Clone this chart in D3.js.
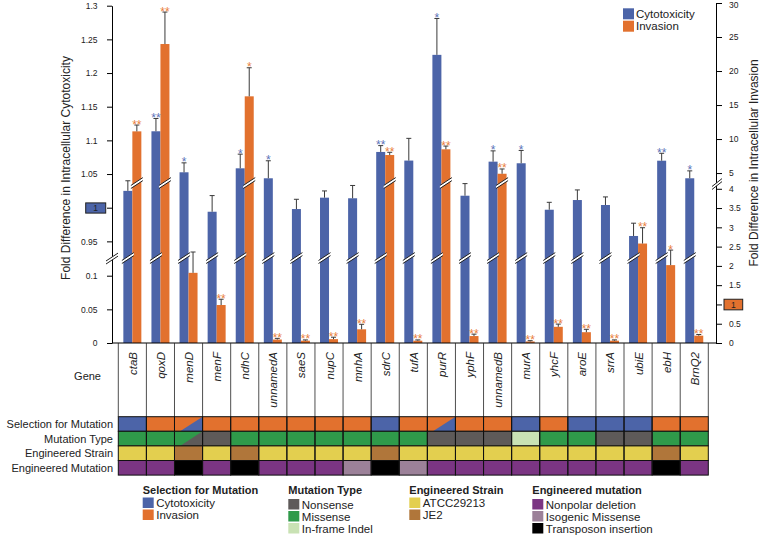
<!DOCTYPE html>
<html><head><meta charset="utf-8">
<script src="https://cdn.jsdelivr.net/npm/d3@7"></script>
<style>body{margin:0;background:#fff}svg{display:block;font-family:Arial,"Liberation Sans",Helvetica,sans-serif}</style>
</head><body><svg id="c" width="760" height="535"></svg>
<script>
// ---------------- data ----------------
const genes = ["ctaB","qoxD","menD","menF","ndhC","unnamedA","saeS","nupC","mnhA","sdrC","tufA","purR","yphF","unnamedB","murA","yhcF","aroE","srrA","ubiE","ebH","BrnQ2"];
const cytotoxicity    = [1.025,1.1135,1.0526,0.994,1.0585,1.0437,0.998,1.0149,1.014,1.0828,1.070,1.227,1.0178,1.0684,1.066,0.997,1.0114,1.004,0.958,1.0698,1.0437];
const cytotoxicityErr = [0.015,0.019,0.014,0.024,0.021,0.026,0.0145,0.010,0.019,0.0094,0.033,0.054,0.018,0.016,0.019,0.011,0.015,0.012,0.019,0.011,0.011];
const cytotoxicitySig = ["","**","*","","*","*","","","","**","","*","","*","*","","","","","**","*"];
const invasion    = [11.13,23.97,1.82,0.985,16.28,0.09,0.06,0.10,0.355,7.65,0.06,8.49,0.18,4.9,0.04,0.42,0.28,0.06,2.58,2.02,0.19];
const invasionErr = [0.93,4.7,0.54,0.15,4.2,0.03,0.02,0.05,0.13,0.4,0.02,0.48,0.05,0.7,0.02,0.07,0.075,0.02,0.41,0.39,0.03];
const invasionSig = ["**","**","","**","*","**","**","**","**","**","**","**","**","**","**","**","**","**","**","*","**"];
const leftTicks  = [0,0.05,0.1,0.95,1,1.05,1.1,1.15,1.2,1.25,1.3];
const rightTicks = [0,0.5,1,1.5,2,2.5,3,3.5,4,5,10,15,20,25,30];
// table rows (C=Cytotoxicity, I=Invasion; M=Missense, N=Nonsense, D=In-frame Indel;
// A=ATCC29213, J=JE2; P=Nonpolar deletion, S=Isogenic Missense, T=Transposon insertion)
const selection    = ["C","I","I/C","I","I","I","I","I","I","C","I","I/C","I","I","C","I","C","C","C","I","I"];
const mutationType = ["M","M","M/N","N","M","M","M","M","M","M","M","N","N","N","D","M","M","N","N","M","M"];
const strain       = ["A","A","J","A","J","A","A","A","A","J","A","A","A","A","A","A","A","A","A","J","A"];
const engineered   = ["P","P","T","P","T","P","P","P","S","T","S","P","P","P","P","P","P","P","P","T","P"];
const rowLabels = ["Selection for Mutation","Mutation Type","Engineered Strain","Engineered Mutation"];

// ---------------- styles ----------------
const BLUE="#4c64a8", ORANGE="#e2712e", BLUE_STAR="#5b72b8", ORANGE_STAR="#ea7f3d";
const colors = {C:BLUE,I:ORANGE,M:"#2f9a4a",N:"#5e5a59",D:"#c9e2b4",A:"#e3cf4f",J:"#b0763a",P:"#7b3583",S:"#9c8199",T:"#000000"};

const svg = d3.select("#c");
const plotTop=5.7, plotBottom=343, breakL=258, axisLX=112, axisRX=716;

const x = d3.scaleBand().domain(genes).range([118.3,708.3]);
const yL = d3.scaleLinear().domain([0,0.1263,0.9253,1.3]).range([plotBottom,breakL,breakL,plotTop]);
const yR = d3.scaleLinear().domain([0,4.15,4.2,30]).range([plotBottom,183,178.5,3]);
const bw = 9;

const data = genes.map((g,i)=>({g,i,c:cytotoxicity[i],ce:cytotoxicityErr[i],cs:cytotoxicitySig[i],
  v:invasion[i],ve:invasionErr[i],vs:invasionSig[i]}));

function slash(g, cx, cy, half){
  const dy=3.2;
  g.append("polygon").attr("points",
    `${cx-half},${cy+dy+1.3} ${cx+half},${cy-dy-0.2} ${cx+half},${cy-dy+2.6} ${cx-half},${cy+dy+4.1}`)
    .attr("transform","translate(0,-2)").attr("fill","#fff");
  g.append("line").attr("x1",cx-half).attr("y1",cy+dy-0.7).attr("x2",cx+half).attr("y2",cy-dy-2.2).attr("stroke","#222").attr("stroke-width",1);
  g.append("line").attr("x1",cx-half).attr("y1",cy+dy+2.3).attr("x2",cx+half).attr("y2",cy-dy+0.8).attr("stroke","#222").attr("stroke-width",1);
}

// bars
const gb = svg.append("g");
const bx = d=>x(d.g)+(x.bandwidth()-2*bw)/2;
gb.selectAll(".bb").data(data).join("rect").attr("x",d=>bx(d)).attr("width",bw)
  .attr("y",d=>yL(d.c)).attr("height",d=>plotBottom-yL(d.c)).attr("fill",BLUE);
gb.selectAll(".ob").data(data).join("rect").attr("x",d=>bx(d)+bw).attr("width",bw)
  .attr("y",d=>yR(d.v)).attr("height",d=>plotBottom-yR(d.v)).attr("fill",ORANGE);

// error bars
const ge = svg.append("g").attr("stroke","#3a3a3a").attr("stroke-width",1);
data.forEach(d=>{
  const cxb=bx(d)+bw/2, cxo=bx(d)+bw*1.5;
  const t1=yL(d.c+d.ce), t2=yR(d.v+d.ve);
  ge.append("line").attr("x1",cxb).attr("x2",cxb).attr("y1",yL(d.c)).attr("y2",t1);
  ge.append("line").attr("x1",cxb-2.5).attr("x2",cxb+2.5).attr("y1",t1).attr("y2",t1);
  ge.append("line").attr("x1",cxo).attr("x2",cxo).attr("y1",yR(d.v)).attr("y2",t2);
  ge.append("line").attr("x1",cxo-2.5).attr("x2",cxo+2.5).attr("y1",t2).attr("y2",t2);
});

// stars
const gs = svg.append("g").attr("font-size",12).attr("text-anchor","middle");
gs.selectAll(".cs").data(data).join("text").attr("x",d=>bx(d)+bw/2).attr("y",d=>yL(d.c+d.ce)+3.5)
  .attr("fill",BLUE_STAR).text(d=>d.cs);
gs.selectAll(".vs").data(data).join("text").attr("x",d=>bx(d)+bw*1.5).attr("y",d=>yR(d.v+d.ve)+3.5)
  .attr("fill",ORANGE_STAR).text(d=>d.vs);

// bar breaks
const gk = svg.append("g");
data.forEach(d=>{
  if(d.c>0.9253) slash(gk, bx(d)+bw/2, breakL, 6);
  if(d.v>4.15) slash(gk, bx(d)+bw*1.5, 183, 6);
});

// axes
const axL = svg.append("g").attr("transform",`translate(${axisLX},0)`)
  .call(d3.axisLeft(yL).tickValues(leftTicks).tickSize(5).tickSizeOuter(0).tickFormat(d=>d===1?"":d));
const axR = svg.append("g").attr("transform",`translate(${axisRX},0)`)
  .call(d3.axisRight(yR).tickValues(rightTicks).tickSize(6).tickSizeOuter(0).tickFormat(d=>d===1?"":d));
[axL,axR].forEach(a=>{
  a.selectAll("text").attr("font-size",8.5).attr("font-family","Arial, 'Liberation Sans', sans-serif").attr("fill","#222");
  a.selectAll("line,path").attr("stroke","#000");
});
axL.selectAll("text").attr("x",-14.5);
axR.selectAll("text").attr("x",13);
axR.selectAll(".tick").filter(d=>d===30).select("text").attr("dy","0.55em");
slash(svg.append("g"), axisLX, breakL+0.5, 6);
slash(svg.append("g"), axisRX+1, 184, 5);

// "1" boxes
svg.append("rect").attr("x",85.7).attr("y",yL(1)-4.8).attr("width",20).attr("height",10.2)
  .attr("fill",BLUE).attr("stroke","#222").attr("stroke-width",1);
svg.append("text").attr("x",95.7).attr("y",yL(1)+3.2).attr("text-anchor","middle").attr("font-size",8.5).attr("fill","#222").text("1");
svg.append("rect").attr("x",724).attr("y",yR(1)-5.2).attr("width",18.7).attr("height",10.6)
  .attr("fill",ORANGE).attr("stroke","#222").attr("stroke-width",1);
svg.append("text").attr("x",733.3).attr("y",yR(1)+3.2).attr("text-anchor","middle").attr("font-size",8.5).attr("fill","#222").text("1");

// axis titles
svg.append("text").attr("transform","translate(70,168) rotate(-90)").attr("text-anchor","middle")
  .attr("font-size",12).attr("fill","#222").text("Fold Difference in Intracellular Cytotoxicity");
svg.append("text").attr("transform","translate(758,163) rotate(-90)").attr("text-anchor","middle")
  .attr("font-size",12).attr("fill","#222").text("Fold Difference in Intracellular Invasion");

// top legend
const lg = svg.append("g");
[["Cytotoxicity",BLUE],["Invasion",ORANGE]].forEach((d,i)=>{
  lg.append("rect").attr("x",623).attr("y",8.3+i*12.4).attr("width",11).attr("height",11).attr("fill",d[1]);
  lg.append("text").attr("x",636).attr("y",18+i*12.4).attr("font-size",11.5).attr("fill","#222").text(d[0]);
});

// x axis line and gene table
svg.append("line").attr("x1",axisLX).attr("x2",axisRX).attr("y1",plotBottom).attr("y2",plotBottom).attr("stroke","#000");
const tableTop=416.7, rowH=14.6;
const bounds = genes.map(g=>x(g)).concat([x.range()[1]]);
svg.append("g").selectAll("line").data(bounds).join("line")
  .attr("x1",d=>d).attr("x2",d=>d).attr("y1",plotBottom).attr("y2",tableTop).attr("stroke","#222").attr("stroke-width",0.8);
svg.append("g").selectAll("text").data(genes).join("text")
  .attr("transform",g=>`translate(${x(g)+x.bandwidth()/2+4.5},352) rotate(-90)`)
  .attr("text-anchor","end").attr("font-size",11.5).attr("font-style","italic").attr("fill","#222").text(g=>g);
svg.append("text").attr("x",101).attr("y",380).attr("text-anchor","end").attr("font-size",11).attr("fill","#222").text("Gene");

const rows=[selection,mutationType,strain,engineered];
rows.forEach((row,r)=>{
  const y0=tableTop+r*rowH;
  const g=svg.append("g");
  row.forEach((code,i)=>{
    const x0=x(genes[i]), w=x.bandwidth();
    if(code.includes("/")){
      const [a,b]=code.split("/");
      g.append("rect").attr("x",x0).attr("y",y0).attr("width",w).attr("height",rowH).attr("fill",colors[a]);
      g.append("polygon").attr("points",`${x0+w*0.2},${y0+rowH} ${x0+w},${y0} ${x0+w},${y0+rowH}`).attr("fill",colors[b]);
    } else {
      g.append("rect").attr("x",x0).attr("y",y0).attr("width",w).attr("height",rowH).attr("fill",colors[code]);
    }
  });
  g.selectAll("rect.o").data(row).join("rect").attr("x",(d,i)=>x(genes[i])).attr("y",y0)
    .attr("width",x.bandwidth()).attr("height",rowH).attr("fill","none").attr("stroke","#111").attr("stroke-width",1);
  svg.append("text").attr("x",113).attr("y",y0+rowH/2+4).attr("text-anchor","end").attr("font-size",11).attr("fill","#222").text(rowLabels[r]);
});

// bottom legend
const legends=[
  {title:"Selection for Mutation",x:142.7,items:[["Cytotoxicity","C"],["Invasion","I"]]},
  {title:"Mutation Type",x:288.3,items:[["Nonsense","N"],["Missense","M"],["In-frame Indel","D"]]},
  {title:"Engineered Strain",x:409.3,items:[["ATCC29213","A"],["JE2","J"]]},
  {title:"Engineered mutation",x:532.3,items:[["Nonpolar deletion","P"],["Isogenic Missense","S"],["Transposon insertion","T"]]}
];
legends.forEach(L=>{
  const g=svg.append("g");
  g.append("text").attr("x",L.x).attr("y",494).attr("font-size",11).attr("font-weight","bold").attr("fill","#222").text(L.title);
  L.items.forEach((it,k)=>{
    const yy = (L.items.length===3?499:497.5)+k*12;
    g.append("rect").attr("x",L.x).attr("y",yy).attr("width",11).attr("height",10.5).attr("fill",colors[it[1]]);
    g.append("text").attr("x",L.x+13.5).attr("y",yy+9.5).attr("font-size",11.5).attr("fill","#222").text(it[0]);
  });
});
</script></body></html>
